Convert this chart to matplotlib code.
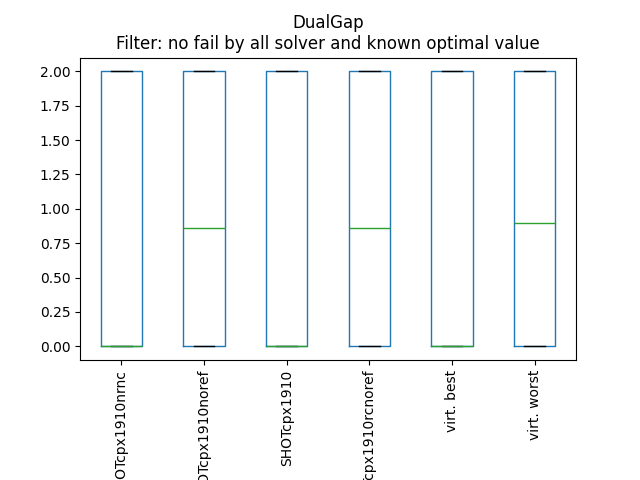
import matplotlib
matplotlib.use('Agg')
import matplotlib.pyplot as plt

solvers = ['SHOTcpx1910nrnc', 'SHOTcpx1910noref', 'SHOTcpx1910',
           'SHOTcpx1910rcnoref', 'virt. best', 'virt. worst']
q1 = [0.0, 0.0, 0.0, 0.0, 0.0, 0.0]
med = [0.0, 0.86, 0.0, 0.86, 0.0, 0.9]
q3 = [2.0, 2.0, 2.0, 2.0, 2.0, 2.0]
lo = [0.0, 0.0, 0.0, 0.0, 0.0, 0.0]
hi = [2.0, 2.0, 2.0, 2.0, 2.0, 2.0]

stats = [dict(label=s, q1=a, med=m, q3=b, whislo=w0, whishi=w1, fliers=[])
         for s, a, m, b, w0, w1 in zip(solvers, q1, med, q3, lo, hi)]

fig, ax = plt.subplots(figsize=(6.4, 4.8), dpi=100)
ax.bxp(stats, showfliers=False,
       boxprops=dict(color='#1f77b4'),
       whiskerprops=dict(color='#1f77b4'),
       medianprops=dict(color='#2ca02c'),
       capprops=dict(color='black'))
ax.set_title('DualGap\nFilter: no fail by all solver and known optimal value')
plt.setp(ax.get_xticklabels(), rotation=90)
fig.subplots_adjust(left=0.125, right=0.9, top=0.88, bottom=0.25)
fig.savefig('out.png')
